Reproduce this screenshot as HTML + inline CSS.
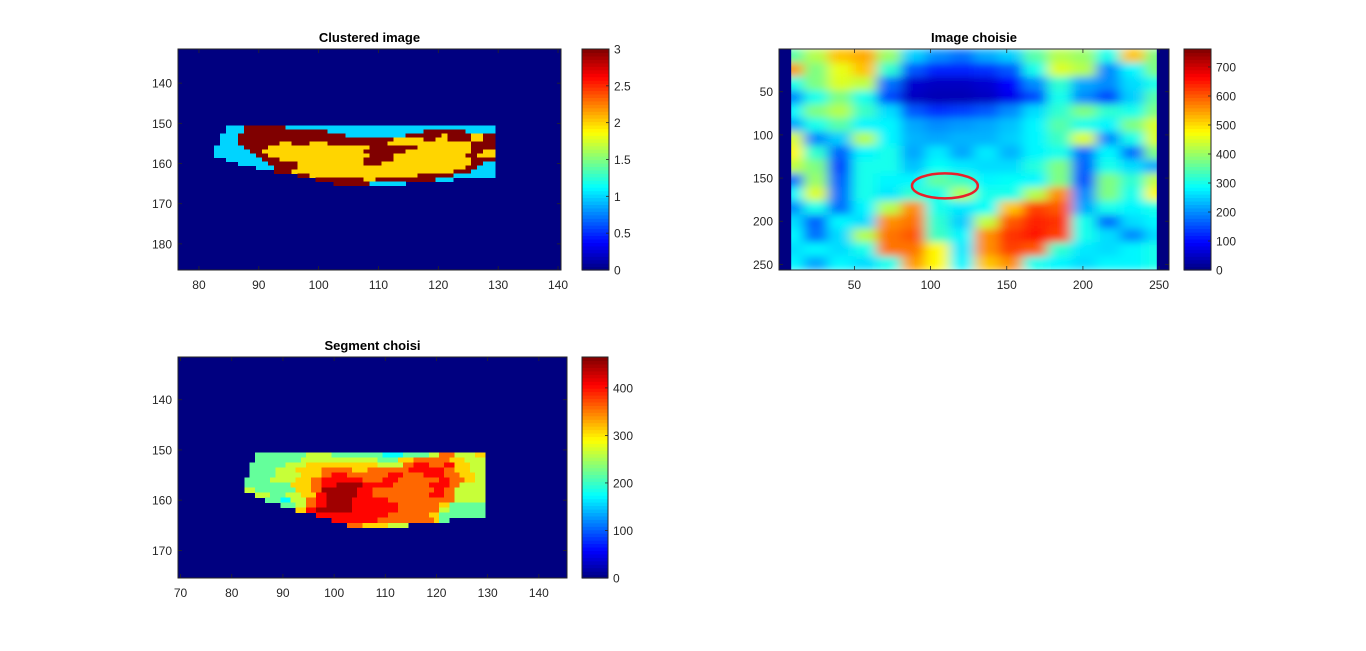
<!DOCTYPE html>
<html>
<head>
<meta charset="utf-8">
<style>
html,body{margin:0;padding:0;background:#fff;width:1366px;height:651px;overflow:hidden;}
svg{position:absolute;left:0;top:0;}
text{font-family:"Liberation Sans",Arial,sans-serif;fill:#262626;}
</style>
</head>
<body>
<svg id="fig" width="1366" height="651" viewBox="0 0 1366 651" xmlns="http://www.w3.org/2000/svg">
  <defs>
    <filter id="mriBlur" x="0" y="0" width="100%" height="100%">
      <feGaussianBlur stdDeviation="6 4" edgeMode="duplicate"/>
    </filter>
    <clipPath id="clip2"><rect x="779" y="49" width="390" height="221"/></clipPath>
  </defs>
</svg>
<script>
// ---------- Data: Clustered image (cols 83..129, rows 151..165) ----------
const clusterCol0 = 83;
const clusterRow0 = 151;
const clusterRows = [
  ["00111","3333333","11111111111111111111111111111111111"].join(''),
  ["00111","33333333333333","1111111111111111","3333333","11111"].join(''),
  ["0111","333333333333333333","1111111111","333333","2","3333","22","33"].join(''),
  ["0111","33333333333333333333333333","22222","33","22","3333","22","33"].join(''),
  ["0111","3333333","22","333","222","3333333333","22222222222222","3333"].join(''),
  ["11111","3333","22222222222222222","33333333","222222222","3333"].join(''),
  ["111111","33","22222222222222222","3333333","22222222222","33","22"].join(''),
  ["1111111","33","22222222222222222","3333","222222222222","33","222"].join(''),
  ["00","111111","333","22222222222222","33333","2222222222222","3333"].join(''),
  ["0000","11111","33333","22222222222","333","222222222222222","33","11"].join(''),
  ["0000000","111","3333","2222222222222222222222222222","33","111"].join(''),
  ["0000000000","333","222222222222222222222222222","333","1111"].join(''),
  ["00000000000000","33","222222222222222222","333333","1111111"].join(''),
  ["00000000000000000","33333333","22","3333333333","111","0000000"].join(''),
  ["00000000000000000000","333333","111111","000000000000000"].join('')
];
const clusterXTicks = [80,90,100,110,120,130,140];
const clusterYTicks = [140,150,160,170,180];
const clusterCbTicks = [0,0.5,1,1.5,2,2.5,3];
const clusterCbLabels = ["0","0.5","1","1.5","2","2.5","3"];

// ---------- Data: Segment choisi (value levels per pixel) ----------
const segLevels = [0,100,150,175,220,265,310,360,405,450];
const segRows = [
  ["00","4444444444","55555","4444444444","3333","44444","55","777","5555","66"].join(''),
  ["00","444444444","555555555555555","4444","666","7777777","666","5555"].join(''),
  ["0","4444444","5555","66666666666666","55555","77","888","777","88","666","555"].join(''),
  ["0","44444","5555","66666","777777","666","77777777","8888888","77","666","555"].join(''),
  ["0","44444","55555","6666","77","888","77777777","888","7777","8888","777","666","55"].join(''),
  ["44444","55555","666","77","88888888","7777","888","77777777","88","777","66","55"].join(''),
  ["444444444","6666","77","888","99999","888888","7777777","8888","77","55555"].join(''),
  ["55","44444444","666","77","9999999","888","777777777777","88","77","555555"].join(''),
  ["00","555","444","555","666","88","999999","888","77777777777","888","77","555555"].join(''),
  ["0000","444","33","555","77","88","99999","8888888","7777777777777","555555"].join(''),
  ["0000000","444","55","77","88","99999","888888888","77777777","66","4444444"].join(''),
  ["0000000000","66","88","9999999","888888888","77777777","55","4444444"].join(''),
  ["00000000000000","88888888888888","77777777","66","444444444"].join(''),
  ["00000000000000000","888888888","77777777777","6","44","0000000"].join(''),
  ["00000000000000000000","777","66666","5555","000000000000000"].join('')
];
const segXTicks = [70,80,90,100,110,120,130,140];
const segYTicks = [140,150,160,170];
const segCbTicks = [0,100,200,300,400];

// ---------- Data: Image choisie (coarse 16x16 intensity grid, 16px cells) ----------
const mriCell = 16;
const mriGrid = [
  [350,420,520,540,400,250,200,180,220,250,350,420,400,300,520,380],
  [550,380,460,520,320,160,120,120,130,160,300,450,420,200,280,380],
  [300,380,450,430,180,60,50,50,60,100,200,320,220,200,260,300],
  [200,300,380,300,150,50,40,40,50,80,150,300,200,150,250,350],
  [280,380,420,330,260,160,130,140,160,200,260,320,380,320,300,380],
  [220,300,350,280,280,220,200,210,220,240,280,350,300,280,380,450],
  [450,200,250,420,280,230,220,230,230,250,280,330,450,200,300,450],
  [480,320,170,280,300,220,270,220,270,230,280,300,180,280,180,380],
  [430,380,150,300,300,240,290,270,260,260,310,380,170,300,260,220],
  [180,400,170,300,280,280,360,330,280,290,280,380,160,380,320,430],
  [280,450,180,300,270,320,300,420,300,300,420,560,200,380,300,480],
  [200,300,180,280,420,560,300,270,290,520,620,600,220,300,280,300],
  [260,170,280,260,560,580,320,250,430,600,640,630,300,180,260,280],
  [280,180,260,420,580,600,330,280,560,630,650,620,300,260,200,260],
  [260,280,260,300,580,580,480,270,560,620,600,320,270,260,280,300],
  [280,220,280,260,300,550,480,280,520,560,300,280,260,280,280,300]
];
const mriBlankCols = [[0.5,8.5],[248.5,256.5]];
const roiCenter = [109.4,159];
const roiRadii = [21.6,14.5];
const mriXTicks = [50,100,150,200,250];
const mriYTicks = [50,100,150,200,250];
const mriCbTicks = [0,100,200,300,400,500,600,700];

// ---------- helpers ----------
const NS = "http://www.w3.org/2000/svg";
const fig = document.getElementById('fig');
function jet(t){
  t = Math.max(0, Math.min(1, t));
  const c = v => Math.round(255*Math.max(0, Math.min(1, v)));
  return 'rgb(' + c(1.5-Math.abs(4*t-3)) + ',' + c(1.5-Math.abs(4*t-2)) + ',' + c(1.5-Math.abs(4*t-1)) + ')';
}
function el(tag, attrs, parent){
  const e = document.createElementNS(NS, tag);
  for (const k in attrs) e.setAttribute(k, attrs[k]);
  (parent || fig).appendChild(e);
  return e;
}
function scales(ax){
  return {
    x: v => ax.x0 + (v - ax.xlim[0]) / (ax.xlim[1]-ax.xlim[0]) * (ax.x1-ax.x0),
    y: v => ax.y0 + (v - ax.ylim[0]) / (ax.ylim[1]-ax.ylim[0]) * (ax.y1-ax.y0)
  };
}
function drawFrame(ax, s, xt, yt, title, key){
  const g = el('g', {});
  
  
  el('rect', {x:ax.x0, y:ax.y0, width:ax.x1-ax.x0, height:ax.y1-ax.y0, fill:'none', stroke:'#262626', 'stroke-width':1}, g);
  xt.forEach(v => {
    const X = s.x(v);
    el('line', {x1:X, x2:X, y1:ax.y1, y2:ax.y1-4, stroke:'#262626', 'stroke-width':0.8}, g);
    el('line', {x1:X, x2:X, y1:ax.y0, y2:ax.y0+4, stroke:'#262626', 'stroke-width':0.8}, g);
    const t = el('text', {x:X, y:ax.y1+19, 'font-size':12, 'text-anchor':'middle'}, g);
    t.textContent = v;
    
    
  });
  yt.forEach(v => {
    const Y = s.y(v);
    el('line', {x1:ax.x0, x2:ax.x0+4, y1:Y, y2:Y, stroke:'#262626', 'stroke-width':0.8}, g);
    el('line', {x1:ax.x1, x2:ax.x1-4, y1:Y, y2:Y, stroke:'#262626', 'stroke-width':0.8}, g);
    const t = el('text', {x:ax.x0-6, y:Y+4.5, 'font-size':12, 'text-anchor':'end'}, g);
    t.textContent = v;
    
    
  });
  const tt = el('text', {x:(ax.x0+ax.x1)/2, y:ax.y0-7, 'font-size':13, 'font-weight':'bold', 'text-anchor':'middle', fill:'#000', style:'fill:#000'});
  tt.textContent = title;
  
  
}
function drawColorbar(cb, ticks, labels, key){
  const g = el('g', {});
  
  
  const n = 64, h = (cb.y1-cb.y0)/n;
  for (let i=0;i<n;i++){
    el('rect', {x:cb.x0, y:cb.y1-(i+1)*h, width:cb.x1-cb.x0, height:h+0.6, fill:jet((i+0.5)/n)}, g);
  }
  el('rect', {x:cb.x0, y:cb.y0, width:cb.x1-cb.x0, height:cb.y1-cb.y0, fill:'none', stroke:'#262626', 'stroke-width':1}, g);
  ticks.forEach((v,i) => {
    const Y = cb.y1 - (v-cb.lim[0])/(cb.lim[1]-cb.lim[0])*(cb.y1-cb.y0);
    el('line', {x1:cb.x1, x2:cb.x1-3, y1:Y, y2:Y, stroke:'#262626', 'stroke-width':0.8}, g);
    const t = el('text', {x:cb.x1+5, y:Y+4.5, 'font-size':12}, g);
    t.textContent = labels ? labels[i] : v;
    
    
  });
}

// ---------- Plot 1: Clustered image ----------
(function(){
  const ax = {x0:178, x1:561, y0:49, y1:270, xlim:[76.5,140.5], ylim:[131.5,186.5]};
  const s = scales(ax);
  const cmax = 3;
  const bg = el('rect', {x:ax.x0, y:ax.y0, width:ax.x1-ax.x0, height:ax.y1-ax.y0, fill:jet(0)});
  
  
  const g = el('g', {'shape-rendering':'crispEdges'});
  
  
  clusterRows.forEach((row, r) => {
    for (let c=0;c<row.length;c++){
      const v = +row[c];
      if (v === 0) continue;
      const cx = clusterCol0 + c, cy = clusterRow0 + r;
      const x0 = s.x(cx-0.5), x1 = s.x(cx+0.5), y0 = s.y(cy-0.5), y1 = s.y(cy+0.5);
      const p = el('rect', {x:x0, y:y0, width:x1-x0+0.4, height:y1-y0+0.4, fill:jet(v/cmax)}, g);
      
      
    }
  });
  drawFrame(ax, s, clusterXTicks, clusterYTicks, 'Clustered image', 'clustered');
  drawColorbar({x0:582, x1:609, y0:49, y1:270, lim:[0,cmax]}, clusterCbTicks, clusterCbLabels, 'clustered');
})();

// ---------- Plot 2: Image choisie ----------
(function(){
  const ax = {x0:779, x1:1169, y0:49, y1:270, xlim:[0.5,256.5], ylim:[0.5,256.5]};
  const s = scales(ax);
  const cmax = 762;
  const outer = el('g', {'clip-path':'url(#clip2)'});
  
  
  const g = el('g', {filter:'url(#mriBlur)'}, outer);
  el('rect', {x:ax.x0, y:ax.y0, width:ax.x1-ax.x0, height:ax.y1-ax.y0, fill:jet(300/cmax)}, g);
  mriGrid.forEach((row, r) => {
    row.forEach((v, c) => {
      const x0 = s.x(0.5 + c*mriCell), x1 = s.x(0.5 + (c+1)*mriCell);
      const y0 = s.y(0.5 + r*mriCell), y1 = s.y(0.5 + (r+1)*mriCell);
      const p = el('rect', {x:x0, y:y0, width:x1-x0+0.5, height:y1-y0+0.5, fill:jet(v/cmax)}, g);
      
      
    });
  });
  mriBlankCols.forEach(b => {
    const p = el('rect', {x:s.x(b[0]), y:ax.y0, width:s.x(b[1])-s.x(b[0]), height:ax.y1-ax.y0, fill:jet(0)}, outer);
    
    
  });
  const e = el('ellipse', {cx:s.x(roiCenter[0]), cy:s.y(roiCenter[1]),
    rx:s.x(roiCenter[0]+roiRadii[0])-s.x(roiCenter[0]), ry:s.y(roiCenter[1]+roiRadii[1])-s.y(roiCenter[1]),
    fill:'none', stroke:'#e8202a', 'stroke-width':2.5});
  
  
  drawFrame(ax, s, mriXTicks, mriYTicks, 'Image choisie', 'image-choisie');
  drawColorbar({x0:1184, x1:1211, y0:49, y1:270, lim:[0,cmax]}, mriCbTicks, null, 'image-choisie');
})();

// ---------- Plot 3: Segment choisi ----------
(function(){
  const ax = {x0:178, x1:567, y0:357, y1:578, xlim:[69.5,145.5], ylim:[131.5,175.5]};
  const s = scales(ax);
  const cmax = 465;
  const bg = el('rect', {x:ax.x0, y:ax.y0, width:ax.x1-ax.x0, height:ax.y1-ax.y0, fill:jet(0)});
  
  
  const g = el('g', {'shape-rendering':'crispEdges'});
  
  
  segRows.forEach((row, r) => {
    for (let c=0;c<row.length;c++){
      const v = segLevels[+row[c]];
      if (v === 0) continue;
      const cx = clusterCol0 + c, cy = clusterRow0 + r;
      const x0 = s.x(cx-0.5), x1 = s.x(cx+0.5), y0 = s.y(cy-0.5), y1 = s.y(cy+0.5);
      const p = el('rect', {x:x0, y:y0, width:x1-x0+0.4, height:y1-y0+0.4, fill:jet(v/cmax)}, g);
      
      
    }
  });
  drawFrame(ax, s, segXTicks, segYTicks, 'Segment choisi', 'segment');
  drawColorbar({x0:582, x1:608, y0:357, y1:578, lim:[0,cmax]}, segCbTicks, null, 'segment');
})();
</script>
</body>
</html>
